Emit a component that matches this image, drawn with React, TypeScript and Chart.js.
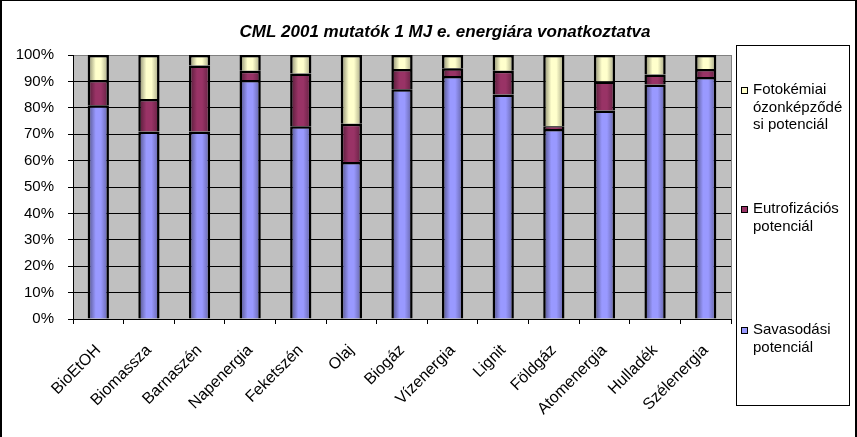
import React, { useEffect, useRef } from 'react';
import { Chart, registerables } from 'chart.js';

Chart.register(...registerables);

const TITLE = 'CML 2001 mutatók 1 MJ e. energiára vonatkoztatva';

const categories = [
  'BioEtOH', 'Biomassza', 'Barnaszén', 'Napenergia', 'Feketszén', 'Olaj', 'Biogáz',
  'Vízenergia', 'Lignit', 'Földgáz', 'Atomenergia', 'Hulladék', 'Szélenergia',
];

// Savasodási potenciál (bottom segment), %
const savasodasi = [81, 71, 71, 90.5, 73, 59.5, 87, 92, 85, 72, 79, 88.8, 91.7];
// Eutrofizációs potenciál (middle segment), %
const eutrofizacios = [9.5, 12.3, 25, 3.5, 20, 14.5, 7.7, 3, 9, 1, 11, 3.8, 3];
// Fotokémiai ózonképződési potenciál (top segment), %
const fotokemiai = [9.5, 16.7, 4, 6, 7, 26, 5.3, 5, 6, 27, 10, 7.4, 5.3];

const yTickValues = [0, 10, 20, 30, 40, 50, 60, 70, 80, 90, 100];

const seriesNames = ['Savasodási potenciál', 'Eutrofizációs potenciál', 'Fotokémiai ózonképződési potenciál'];
const seriesColors = ['#9999FF', '#993366', '#FFFFCC'];

// legend text lines as wrapped in the original (top to bottom)
const legendItems = [
  { color: '#FFFFCC', lines: ['Fotokémiai', 'ózonképződé', 'si potenciál'] },
  { color: '#993366', lines: ['Eutrofizációs', 'potenciál'] },
  { color: '#9999FF', lines: ['Savasodási', 'potenciál'] },
];

const FONT = '"Liberation Sans", Arial, sans-serif';
const BAR_FRACTION = 0.42;

function shade(hex: string, f: number): string {
  const n = parseInt(hex.slice(1), 16);
  const r = Math.round(((n >> 16) & 255) * f);
  const g = Math.round(((n >> 8) & 255) * f);
  const b = Math.round((n & 255) * f);
  return `rgb(${Math.min(255, r)},${Math.min(255, g)},${Math.min(255, b)})`;
}

function cylinder(base: string) {
  return (ctx: any) => {
    const chart = ctx.chart;
    const xs = chart.scales && chart.scales.x;
    if (ctx.type !== 'data' || !xs || !chart.chartArea) return base;
    const cx = xs.getPixelForValue(ctx.dataIndex);
    const w = (xs.width / categories.length) * BAR_FRACTION;
    const g = chart.ctx.createLinearGradient(cx - w / 2, 0, cx + w / 2, 0);
    g.addColorStop(0, shade(base, 0.5));
    g.addColorStop(0.38, base);
    g.addColorStop(0.62, base);
    g.addColorStop(1, shade(base, 0.62));
    return g;
  };
}

const decor = {
  id: 'decor',
  beforeDraw(chart: any) {
    const { ctx, chartArea: a } = chart;
    ctx.save();
    ctx.fillStyle = '#FFFFFF';
    ctx.fillRect(0, 0, chart.width, chart.height);
    ctx.fillStyle = '#C0C0C0';
    ctx.fillRect(a.left, a.top, a.right - a.left, a.bottom - a.top);
    ctx.restore();
  },
  afterDraw(chart: any) {
    const { ctx, chartArea: a } = chart;
    ctx.save();
    // right border of plot area
    ctx.strokeStyle = '#808080';
    ctx.lineWidth = 1;
    ctx.beginPath();
    ctx.moveTo(a.right + 0.5, a.top);
    ctx.lineTo(a.right + 0.5, a.bottom);
    ctx.stroke();

    // title
    ctx.fillStyle = '#000';
    ctx.font = `italic bold 17px ${FONT}`;
    ctx.textAlign = 'center';
    ctx.textBaseline = 'alphabetic';
    ctx.fillText(TITLE, 445, 37);

    // legend box
    ctx.fillStyle = '#FFFFFF';
    ctx.fillRect(736, 45, 113, 360);
    ctx.strokeStyle = '#000';
    ctx.lineWidth = 1;
    ctx.strokeRect(736.5, 45.5, 113, 360);

    const baselines = [94, 213, 334];
    ctx.font = `15px ${FONT}`;
    ctx.textAlign = 'left';
    legendItems.forEach((item, i) => {
      const b = baselines[i];
      ctx.fillStyle = item.color;
      ctx.fillRect(741, b - 7, 7, 7);
      ctx.strokeStyle = '#000';
      ctx.strokeRect(741.5, b - 6.5, 6, 6);
      ctx.fillStyle = '#000';
      item.lines.forEach((ln, j) => ctx.fillText(ln, 753, b + j * 17.5));
    });

    // outer chart border
    ctx.fillStyle = '#000';
    ctx.fillRect(0, 0, 2, chart.height);
    ctx.fillRect(0, 0, chart.width, 1);
    ctx.fillRect(855, 0, 2, chart.height);
    ctx.restore();
  },
};

export default function App() {
  const ref = useRef<HTMLCanvasElement | null>(null);
  useEffect(() => {
    if (!ref.current) return;
    const chart = new Chart(ref.current, {
      type: 'bar',
      data: {
        labels: categories,
        datasets: [
          { label: seriesNames[0], data: savasodasi, backgroundColor: cylinder(seriesColors[0]) },
          { label: seriesNames[1], data: eutrofizacios, backgroundColor: cylinder(seriesColors[1]) },
          { label: seriesNames[2], data: fotokemiai, backgroundColor: cylinder(seriesColors[2]) },
        ].map((d) => ({
          ...d,
          borderColor: '#000',
          borderWidth: 2.5,
          borderSkipped: 'start',
          barPercentage: BAR_FRACTION,
          categoryPercentage: 1,
        })) as any,
      },
      options: {
        responsive: false,
        animation: false,
        devicePixelRatio: 1,
        layout: { padding: { top: 55, right: 126, left: 0, bottom: 0 } },
        plugins: { legend: { display: false }, title: { display: false }, tooltip: { enabled: false } },
        scales: {
          x: {
            stacked: true,
            afterFit: (s: any) => { s.height = 118; },
            grid: {
              display: true,
              drawOnChartArea: false,
              drawTicks: true,
              tickLength: 5,
              color: '#000',
              offset: true,
            },
            border: { display: true, color: '#000', width: 1 },
            ticks: {
              autoSkip: false,
              minRotation: 45,
              maxRotation: 45,
              padding: 17,
              color: '#000',
              font: { family: FONT, size: 16 },
            },
          },
          y: {
            stacked: true,
            min: 0,
            max: 100,
            afterFit: (s: any) => { s.width = 73; },
            afterBuildTicks: (s: any) => { s.ticks = yTickValues.map((v) => ({ value: v })); },
            grid: {
              color: (c: any) => (c.tick && c.tick.value === 100 ? '#808080' : '#000'),
              tickColor: '#000',
              tickLength: 5,
              lineWidth: 1,
            },
            border: { display: true, color: '#000', width: 1 },
            ticks: {
              padding: 14,
              color: '#000',
              font: { family: FONT, size: 15 },
              callback: (v: any) => `${v}%`,
            },
          },
        },
      },
      plugins: [decor],
    });
    return () => chart.destroy();
  }, []);
  return (
    <div style={{ position: 'absolute', left: 0, top: 0, width: 857, height: 437 }}>
      <canvas ref={ref} width={857} height={437} style={{ display: 'block' }} />
    </div>
  );
}
